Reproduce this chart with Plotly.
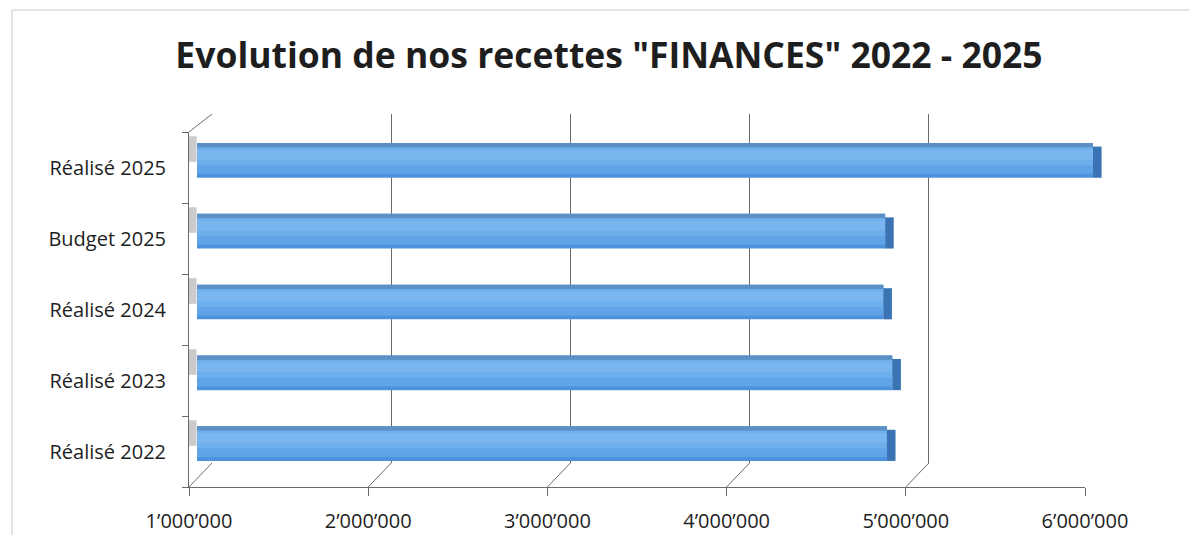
import plotly.graph_objects as go

# ---- data ----
categories = ["Réalisé 2022", "Réalisé 2023", "Réalisé 2024", "Budget 2025", "Réalisé 2025"]
values = [4850000, 4880000, 4830000, 4840000, 6000000]
tick_values = [1000000, 2000000, 3000000, 4000000, 5000000, 6000000]
tick_labels = ["1’000’000", "2’000’000", "3’000’000", "4’000’000", "5’000’000", "6’000’000"]
title_text = 'Evolution de nos recettes "FINANCES" 2022 - 2025'

# page body has an 8px margin; keep the figure inside the viewport
OFF = 8
W, H = 1197 - 2 * OFF, 543 - 2 * OFF
FONT = "Open Sans"

def fx(px):
    return (px - OFF) / W

def fy(py):
    return 1 - (py - OFF) / H

def xd(a, b):
    return [fx(a), fx(b)]

def yd(top, bottom):
    return [fy(bottom), fy(top)]

XR = [1000000, 6000000]
SPAN = 896  # pixels for the 1M..6M range
YR = [-0.5, 4.5]
DX, DY = 23, 24  # 3D depth in pixels

# bar subplot gets a little extra room on the right for the 3D end faces
XR2 = [1000000, 6100000]
bar_left = 197
bar_right = bar_left + SPAN * (XR2[1] - XR2[0]) / (XR[1] - XR[0])

fig = go.Figure()

# subplot 1: back wall gridlines (drawn first, behind)
fig.add_trace(go.Scatter(x=values, y=categories, xaxis="x", yaxis="y", mode="markers",
                         marker=dict(opacity=0), hoverinfo="skip", showlegend=False))

# subplot 2: bars (layered to suggest a shaded 3D bar)
bar_common = dict(orientation="h", xaxis="x2", yaxis="y2", showlegend=False, hoverinfo="skip")
fig.add_trace(go.Bar(x=values, y=categories, width=0.49, marker=dict(color="#4b93dc", line=dict(width=0)), **bar_common))
fig.add_trace(go.Bar(x=values, y=categories, width=0.40, offset=-0.19,
                     marker=dict(color="#5fa4e6", line=dict(width=0)), **bar_common))
fig.add_trace(go.Bar(x=values, y=categories, width=0.26, offset=-0.07,
                     marker=dict(color="#6daeec", line=dict(width=0)), **bar_common))
fig.add_trace(go.Bar(x=values, y=categories, width=0.14, offset=0.01,
                     marker=dict(color="#79b6ef", line=dict(width=0)), **bar_common))
fig.add_trace(go.Bar(x=values, y=categories, width=0.06, offset=0.185,
                     marker=dict(color="#5b8fc6", line=dict(width=0)), **bar_common))
fig.add_trace(go.Bar(x=[48000] * len(values), base=values, y=categories, width=0.44, offset=-0.245,
                     marker=dict(color="#3a74b4", line=dict(width=0)), **bar_common))

# subplot 3: front axes (+ soft shadows on the left wall)
fig.add_trace(go.Bar(x=[42000] * len(values), base=[XR[0]] * len(values), y=categories, orientation="h",
                     xaxis="x3", yaxis="y3", width=0.36, offset=0.08,
                     marker=dict(color="rgba(160,160,160,0.55)", line=dict(width=0)),
                     hoverinfo="skip", showlegend=False))

axis_gray = "#6a6a6a"
cat_axis = dict(type="category", categoryorder="array", categoryarray=categories, range=YR,
                fixedrange=True, automargin=False)

fig.update_layout(
    width=W, height=H,
    margin=dict(l=0, r=0, t=0, b=0, autoexpand=False),
    paper_bgcolor="white",
    plot_bgcolor="rgba(0,0,0,0)",
    barmode="overlay",
    title=dict(text=title_text, x=fx(609), xanchor="center", y=fy(56), yanchor="middle",
               xref="paper", yref="paper",
               font=dict(family=FONT, size=35.5, color="#1e1e1e", weight="bold")),
    # back wall
    xaxis=dict(domain=xd(189 + DX, 189 + DX + SPAN), range=XR, tickvals=tick_values, showticklabels=False,
               showgrid=True, gridcolor=axis_gray, gridwidth=1, zeroline=False, showline=False, ticks="",
               automargin=False),
    yaxis=dict(domain=yd(114, 463), showgrid=False, showticklabels=False, zeroline=False,
               showline=False, ticks="", **cat_axis),
    # bars
    xaxis2=dict(domain=xd(bar_left, bar_right), range=XR2, anchor="y2", showgrid=False, showticklabels=False,
                zeroline=False, showline=False, ticks="", automargin=False),
    yaxis2=dict(domain=yd(125, 479), anchor="x2", showgrid=False, showticklabels=False, zeroline=False,
                showline=False, ticks="", **cat_axis),
    # front axes
    xaxis3=dict(domain=xd(189, 189 + SPAN), range=XR, anchor="y3", tickvals=tick_values, ticktext=tick_labels,
                showgrid=False, zeroline=False, showline=True, linecolor=axis_gray, linewidth=1,
                ticks="outside", ticklen=8, tickcolor=axis_gray, ticklabelstandoff=8, automargin=False,
                tickfont=dict(family=FONT, size=20, color="#1e1e1e")),
    yaxis3=dict(domain=yd(132, 487), anchor="x3", showgrid=False, zeroline=False, showline=True,
                linecolor=axis_gray, linewidth=1, ticks="outside", tickson="boundaries", ticklen=6,
                tickcolor=axis_gray, ticklabelstandoff=18,
                tickfont=dict(family=FONT, size=20, color="#1e1e1e"), **cat_axis),
)

# 3D floor connectors from each front tick to the back wall
shapes = []
for tv in tick_values:
    shapes.append(dict(type="line", xref="x3", xsizemode="pixel", xanchor=tv, x0=0, x1=DX,
                       yref="paper", ysizemode="pixel", yanchor=fy(487), y0=0, y1=DY,
                       line=dict(color=axis_gray, width=1)))
# top of the left wall
shapes.append(dict(type="line", xref="x3", xsizemode="pixel", xanchor=tick_values[0], x0=0, x1=DX,
                   yref="paper", ysizemode="pixel", yanchor=fy(132), y0=0, y1=18,
                   line=dict(color=axis_gray, width=1)))
# chart frame (scan border)
shapes.append(dict(type="line", xref="paper", yref="paper", x0=fx(12), x1=1.0, y0=fy(10), y1=fy(10),
                   line=dict(color="#c8c8c8", width=1)))
shapes.append(dict(type="line", xref="paper", yref="paper", x0=fx(12), x1=fx(12), y0=0, y1=fy(10),
                   line=dict(color="#c8c8c8", width=1)))
fig.update_layout(shapes=shapes)

fig.write_html("out.html")
